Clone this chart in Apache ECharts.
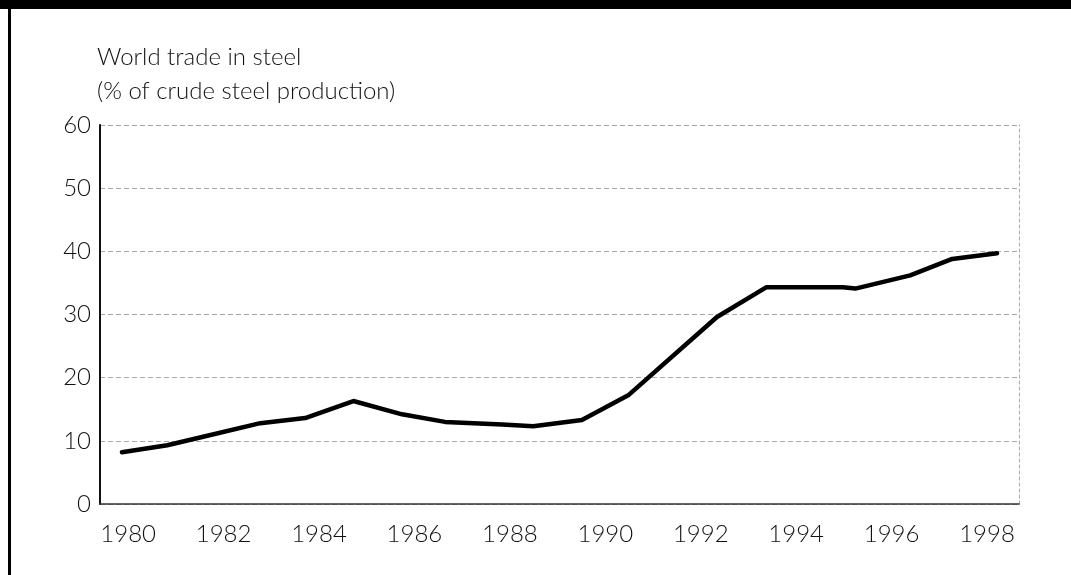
<!DOCTYPE html>
<html>
<head>
<meta charset="utf-8">
<script src="https://cdn.jsdelivr.net/npm/echarts@6/dist/echarts.min.js"></script>
<style>
html,body{margin:0;padding:0;background:#fff;}
#chart{width:1071px;height:575px;}
</style>
</head>
<body>
<div id="chart"></div>
<script>
// Data (x positions in years, as the line's vertices fall)
const years = [1979.87, 1980.82, 1981.66, 1982.77, 1983.71, 1984.72, 1985.74, 1986.64, 1987.84, 1988.49, 1989.51, 1990.48, 1992.34, 1993.37, 1994.98, 1995.24, 1996.39, 1997.27, 1998.21];
const tradeShare = [8.2, 9.3, 10.8, 12.8, 13.6, 16.3, 14.2, 13.0, 12.6, 12.3, 13.3, 17.2, 29.6, 34.3, 34.3, 34.1, 36.2, 38.8, 39.7];
const xTickLabels = [1980, 1982, 1984, 1986, 1988, 1990, 1992, 1994, 1996, 1998];
const yTicks = [0, 10, 20, 30, 40, 50, 60];
const titleLines = ['World trade in steel', '(% of crude steel production)'];

const FONT = 'Lato';
const chart = echarts.init(document.getElementById('chart'), null, {renderer: 'canvas'});
chart.setOption({
  backgroundColor: '#fff',
  animation: false,
  title: {
    text: titleLines.join('\n'),
    left: 97,
    top: 40,
    padding: 0,
    textStyle: {fontFamily: FONT, fontWeight: 300, fontSize: 24, lineHeight: 34, color: '#111'}
  },
  grid: {left: 100, right: 52, top: 125, bottom: 71, containLabel: false},
  xAxis: {
    type: 'value',
    min: 1979.41,
    max: 1998.67,
    axisLine: {show: true, lineStyle: {color: '#333', width: 1.5}},
    axisTick: {show: false},
    splitLine: {show: false},
    axisLabel: {
      customValues: xTickLabels,
      formatter: v => String(Math.round(v)),
      fontFamily: FONT, fontWeight: 300, fontSize: 24, color: '#111', margin: 18
    }
  },
  yAxis: [{
    type: 'value',
    min: 0, max: 60, interval: 10,
    axisLabel: {customValues: yTicks, fontFamily: FONT, fontWeight: 300, fontSize: 24, color: '#111', margin: 9},
    axisLine: {show: true, lineStyle: {color: '#111', width: 2}},
    axisTick: {show: false},
    splitLine: {show: true, lineStyle: {color: '#aaa', width: 1, type: [5, 3]}}
  }, {
    type: 'value', position: 'right',
    min: 0, max: 60,
    axisLine: {show: true, lineStyle: {color: '#aaa', width: 1, type: [3, 3]}},
    axisTick: {show: false}, axisLabel: {show: false}, splitLine: {show: false}
  }],
  series: [{
    type: 'line',
    data: years.map((y, i) => [y, tradeShare[i]]),
    showSymbol: false,
    symbol: 'none',
    lineStyle: {color: '#000', width: 4.5, join: 'round', cap: 'round'}
  }],
  graphic: [
    {type: 'rect', shape: {x: 0, y: 0, width: 1071, height: 9}, style: {fill: '#000'}},
    {type: 'rect', shape: {x: 8, y: 9, width: 3, height: 566}, style: {fill: '#000'}}
  ]
});
</script>
</body>
</html>
